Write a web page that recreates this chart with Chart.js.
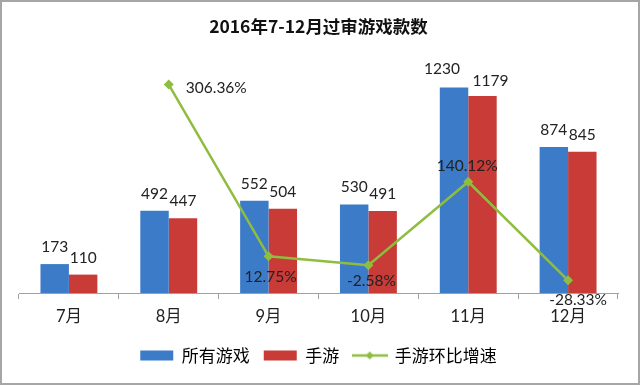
<!DOCTYPE html>
<html lang="zh">
<head>
<meta charset="UTF-8">
<title>2016年7-12月过审游戏款数</title>
<style>
  body { margin: 0; background: #fff; }
  #wrap {
    width: 640px; height: 385px; box-sizing: border-box;
    border: 2px solid #a6a6a6; background: #fff;
  }
  #chart { display: block; }
</style>
</head>
<body>
<div id="wrap"><canvas id="chart" width="636" height="381"></canvas></div>
<script src="https://cdn.jsdelivr.net/npm/chart.js"></script>
<script>
const months = ['7月', '8月', '9月', '10月', '11月', '12月'];
const allGames = [173, 492, 552, 530, 1230, 874];
const mobileGames = [110, 447, 504, 491, 1179, 845];
const mobileGrowth = [null, 306.36, 12.75, -2.58, 140.12, -28.33];

const BLUE = '#3c7bc8';
const RED = '#c83b37';
const GREEN = '#8fbd3f';
const numFont = 'Lato, "Noto Sans CJK SC", sans-serif';

// small legend icon: line with a diamond
const lineIcon = document.createElement('canvas');
lineIcon.width = 36; lineIcon.height = 12;
(function () {
  const c = lineIcon.getContext('2d');
  c.strokeStyle = GREEN; c.lineWidth = 2.5;
  c.beginPath(); c.moveTo(0, 6); c.lineTo(36, 6); c.stroke();
  c.fillStyle = GREEN;
  c.beginPath(); c.moveTo(18, 2); c.lineTo(22, 6); c.lineTo(18, 10); c.lineTo(14, 6); c.closePath(); c.fill();
})();

// label nudges (dx, dy) per bar dataset, the 11月 pair is pushed apart like in the original
const barLabelNudge = [
  [[0, 0], [0, 0], [0, 0], [0, 0], [-12, -1], [0, 0]],
  [[0, 0], [0, 0], [0, 0], [0, 0], [8, 2], [0, 0]]
];
// where the growth labels sit relative to their point
const growthLabelPos = [null, 'right', 'belowRight', 'below', 'above', 'belowRight2'];

const labelPlugin = {
  id: 'valueLabels',
  afterDatasetsDraw(chart) {
    const ctx = chart.ctx;
    ctx.save();
    ctx.fillStyle = '#222';
    ctx.font = '15.5px ' + numFont;
    ctx.textBaseline = 'middle';
    [0, 1].forEach(di => {
      const meta = chart.getDatasetMeta(di);
      meta.data.forEach((bar, i) => {
        const n = barLabelNudge[di][i];
        ctx.textAlign = 'center';
        ctx.fillText(String(chart.data.datasets[di].data[i]), bar.x + n[0], bar.y - 17 + n[1]);
      });
    });
    const lm = chart.getDatasetMeta(2);
    lm.data.forEach((pt, i) => {
      const v = mobileGrowth[i];
      if (v === null) return;
      const txt = v.toFixed(2) + '%';
      const pos = growthLabelPos[i];
      if (pos === 'right') {
        ctx.textAlign = 'left'; ctx.fillText(txt, pt.x + 17, pt.y + 3);
      } else if (pos === 'belowRight') {
        ctx.textAlign = 'center'; ctx.fillText(txt, pt.x + 2, pt.y + 21);
      } else if (pos === 'below') {
        ctx.textAlign = 'center'; ctx.fillText(txt, pt.x + 3, pt.y + 16);
      } else if (pos === 'above') {
        ctx.textAlign = 'center'; ctx.fillText(txt, pt.x - 1, pt.y - 16);
      } else {
        ctx.textAlign = 'center'; ctx.fillText(txt, pt.x + 10, pt.y + 20);
      }
    });
    ctx.restore();
  }
};

new Chart(document.getElementById('chart'), {
  data: {
    labels: months,
    datasets: [
      { type: 'bar', label: '所有游戏', data: allGames, backgroundColor: BLUE, yAxisID: 'y', order: 1 },
      { type: 'bar', label: '手游', data: mobileGames, backgroundColor: RED, yAxisID: 'y', order: 1 },
      {
        type: 'line', label: '手游环比增速', data: mobileGrowth, yAxisID: 'y1', order: 0,
        borderColor: GREEN, backgroundColor: GREEN, borderWidth: 2.5,
        pointStyle: 'rectRot', pointRadius: 5, pointBackgroundColor: GREEN, pointBorderWidth: 0,
        spanGaps: false, tension: 0
      }
    ]
  },
  options: {
    responsive: false,
    animation: false,
    layout: { padding: { left: 17, right: 20, top: 0, bottom: 9 } },
    datasets: { bar: { categoryPercentage: 0.57, barPercentage: 1 } },
    scales: {
      x: {
        grid: { display: true, drawOnChartArea: false, drawTicks: true, tickLength: 6, color: '#a0a0a0', offset: true },
        border: { display: true, color: '#a0a0a0', width: 1 },
        ticks: { padding: 8, color: '#222', font: { size: 16.5, family: numFont } },
        afterFit(scale) { scale.height = 40; }
      },
      y: { display: false, min: 0, max: 1400 },
      y1: { display: false, min: -50, max: 350, position: 'right' }
    },
    plugins: {
      title: {
        display: true,
        text: '2016年7-12月过审游戏款数',
        color: '#111',
        font: { size: 17.5, weight: 'bold', family: '"Noto Sans CJK SC", sans-serif' },
        padding: { top: 14, bottom: 22 }
      },
      legend: {
        position: 'bottom',
        labels: {
          usePointStyle: true,
          pointStyleWidth: 33,
          boxHeight: 10,
          padding: 14,
          color: '#222',
          font: { size: 17, family: '"Noto Sans CJK SC", sans-serif' },
          sort: (a, b) => a.datasetIndex - b.datasetIndex,
          generateLabels(chart) {
            return chart.data.datasets.map((ds, i) => ({
              text: ds.label,
              fillStyle: ds.backgroundColor,
              strokeStyle: ds.backgroundColor,
              lineWidth: 0,
              pointStyle: ds.type === 'line' ? lineIcon : 'rect',
              datasetIndex: i,
              hidden: false
            }));
          }
        }
      },
      tooltip: { enabled: false }
    }
  },
  plugins: [labelPlugin]
});
</script>
</body>
</html>
